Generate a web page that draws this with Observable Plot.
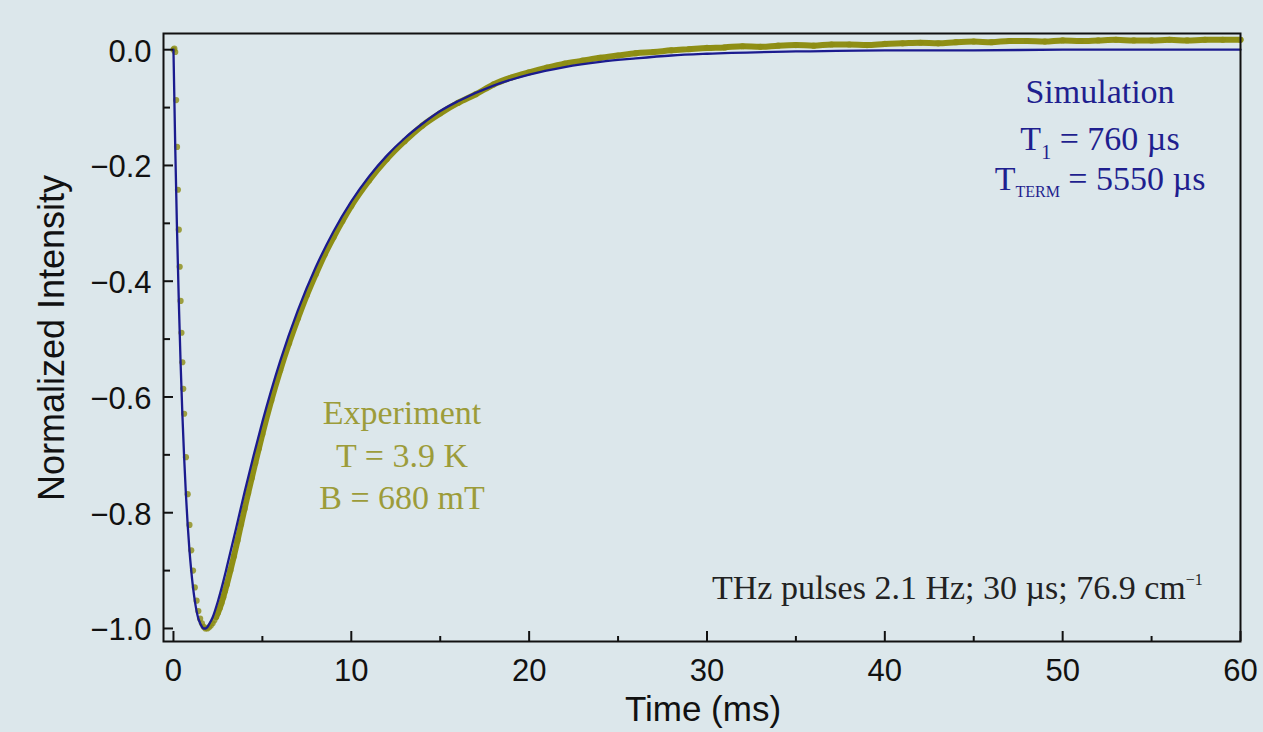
<!DOCTYPE html>
<html>
<head>
<meta charset="utf-8">
<script src="https://cdn.jsdelivr.net/npm/d3@7"></script>
<script src="https://cdn.jsdelivr.net/npm/@observablehq/plot@0.6"></script>
<style>
  html, body { margin: 0; padding: 0; background: #dce7eb; }
  #wrap { position: relative; width: 1263px; height: 732px; overflow: hidden; background: #dce7eb; }
  #wrap svg { position: absolute; left: 0; top: 0; }
  .ann { position: absolute; white-space: nowrap; font-family: "Liberation Serif", "Times New Roman", serif; font-size: 34px; line-height: 40.8px; }
  .ctr { transform: translateX(-50%); }
  .sans { font-family: "Liberation Sans", Arial, sans-serif; color: #111; }
</style>
</head>
<body>
<div id="wrap"></div>
<script>
// ---- data ----
const simTime  = [0, 0.1, 0.2, 0.3, 0.4, 0.5, 0.6, 0.7, 0.8, 0.9, 1.0, 1.1, 1.2, 1.3, 1.4, 1.5, 1.6, 1.7, 1.8, 1.9, 2.0, 2.2, 2.5, 2.8, 3.0, 3.5, 4, 4.5, 5, 6, 7, 8, 9, 10, 11, 12, 13, 14, 15, 16, 18, 20, 22, 24, 26, 28, 30, 35, 40, 45, 50, 55, 60];
const simValue = [0, -0.168, -0.311, -0.434, -0.540, -0.629, -0.704, -0.768, -0.821, -0.865, -0.900, -0.929, -0.952, -0.970, -0.983, -0.991, -0.997, -1.000, -1.000, -0.998, -0.993, -0.981, -0.953, -0.919, -0.894, -0.830, -0.764, -0.702, -0.643, -0.538, -0.450, -0.376, -0.314, -0.262, -0.219, -0.183, -0.153, -0.128, -0.106, -0.089, -0.062, -0.043, -0.030, -0.021, -0.015, -0.010, -0.007, -0.003, -0.001, -0.001, 0, 0, 0];

const expTime  = [0, 0.05, 0.1, 0.15, 0.2, 0.25, 0.3, 0.35, 0.4, 0.45, 0.5, 0.55, 0.6, 0.7, 0.8, 0.9, 1.0, 1.1, 1.2, 1.3, 1.4, 1.5, 1.6, 1.7, 1.8, 1.9, 2.0, 2.1, 2.2, 2.3, 2.4, 2.5, 2.6, 2.7, 2.8, 2.9, 3.0, 3.2, 3.4, 3.6, 3.8, 4.0, 4.2, 4.4, 4.6, 4.8, 5.0, 5.5, 6.0, 6.5, 7.0, 7.5, 8.0, 8.5, 9.0, 9.5, 10, 11, 12, 13, 14, 15, 16, 17, 18, 19, 20, 21, 22, 23, 24, 25, 26, 27, 28, 29, 30, 31, 32, 33, 34, 35, 36, 37, 38, 39, 40, 41, 42, 43, 44, 45, 46, 47, 48, 49, 50, 51, 52, 53, 54, 55, 56, 57, 58, 59, 60];
const expValue = [0, 0.002, -0.004, -0.087, -0.168, -0.242, -0.311, -0.375, -0.434, -0.489, -0.540, -0.586, -0.629, -0.704, -0.768, -0.821, -0.865, -0.900, -0.929, -0.952, -0.970, -0.983, -0.991, -0.997, -1.000, -1.000, -0.998, -0.995, -0.991, -0.986, -0.980, -0.973, -0.965, -0.956, -0.946, -0.935, -0.924, -0.900, -0.875, -0.848, -0.820, -0.793, -0.766, -0.740, -0.714, -0.689, -0.664, -0.606, -0.554, -0.507, -0.464, -0.424, -0.388, -0.354, -0.324, -0.296, -0.270, -0.226, -0.189, -0.158, -0.131, -0.110, -0.092, -0.077, -0.060, -0.048, -0.039, -0.031, -0.024, -0.019, -0.014, -0.010, -0.006, -0.004, -0.001, 0.001, 0.003, 0.004, 0.006, 0.005, 0.007, 0.008, 0.007, 0.009, 0.009, 0.008, 0.010, 0.011, 0.012, 0.011, 0.013, 0.014, 0.013, 0.015, 0.015, 0.014, 0.016, 0.015, 0.016, 0.017, 0.016, 0.016, 0.017, 0.016, 0.017, 0.017, 0.017];

const xTicks = [0, 10, 20, 30, 40, 50, 60];
const xMinorTicks = [5, 15, 25, 35, 45, 55];
const yTicks = [0, -0.2, -0.4, -0.6, -0.8, -1.0];
const yTickLabels = ["0.0", "\u22120.2", "\u22120.4", "\u22120.6", "\u22120.8", "\u22121.0"];
const yMinorTicks = [-0.1, -0.3, -0.5, -0.7, -0.9];

const xLabel = "Time (ms)";
const yLabel = "Normalized Intensity";

// ---- tables ----
const sim = simTime.map((t, i) => ({t, v: simValue[i]}));
const exp = expTime.map((t, i) => ({t, v: expValue[i]}));

const W = 1263, H = 732;
const mL = 163, mR = 23, mT = 33, mB = 91;
const innerW = W - mL - mR, innerH = H - mT - mB;

const ink = "#111";
const blue = "#1b1b8f";
const olive = "#8a8a0a";

const chart = Plot.plot({
  width: W, height: H,
  marginLeft: mL, marginRight: mR, marginTop: mT, marginBottom: mB,
  style: {background: "transparent", fontFamily: "'Liberation Sans', Arial, sans-serif", color: ink},
  x: {domain: [-0.56, 60]},
  y: {domain: [-1.0225, 0.028]},
  marks: [
    Plot.line(exp.filter(d => d.t >= 2.4), {x: "t", y: "v", stroke: olive, strokeWidth: 6, strokeOpacity: 0.95, curve: "monotone-x"}),
    Plot.dot(exp, {x: "t", y: "v", r: 3.1, fill: "#8c8c14", fillOpacity: 0.8, stroke: "none"}),
    Plot.line(sim, {x: "t", y: "v", stroke: blue, strokeWidth: 2.3, curve: "monotone-x"}),
    Plot.frame({stroke: ink, strokeWidth: 2}),
    Plot.tickX(xTicks, {x: d => d, stroke: ink, strokeWidth: 2, insetTop: innerH - 10}),
    Plot.tickX(xMinorTicks, {x: d => d, stroke: ink, strokeWidth: 2, insetTop: innerH - 5}),
    Plot.tickY(yTicks, {y: d => d, stroke: ink, strokeWidth: 2, insetRight: innerW - 10}),
    Plot.tickY(yMinorTicks, {y: d => d, stroke: ink, strokeWidth: 2, insetRight: innerW - 7}),
    Plot.axisX(xTicks, {tickSize: 0, tickPadding: 17, fontSize: 31, label: null, tickFormat: d => String(d), fill: ink}),
    Plot.axisY(yTicks, {tickSize: 0, tickPadding: 12, fontSize: 31, label: null, tickFormat: d => yTickLabels[yTicks.indexOf(d)], fill: ink, dy: 2})
  ]
});

const wrap = document.getElementById("wrap");
wrap.appendChild(chart);

function addText(html, cls, style) {
  const d = document.createElement("div");
  d.className = cls;
  d.innerHTML = html;
  Object.assign(d.style, style);
  wrap.appendChild(d);
  return d;
}

// axis titles
addText(xLabel, "ann sans ctr", {left: "703px", top: "689px", fontSize: "35px", lineHeight: "40px"});
addText(yLabel, "ann sans", {left: "52px", top: "338px", fontSize: "36px", lineHeight: "43.2px", transform: "translate(-50%,-50%) rotate(-90deg)"});

// annotations: simulation
const simC = "#1f1f8f";
addText("Simulation", "ann ctr", {left: "1100px", top: "72px", color: simC});
addText('T<span style="font-size:20px;position:relative;top:9px;line-height:0">1</span> = 760 \u00b5s', "ann ctr", {left: "1100px", top: "119px", color: simC});
addText('T<span style="font-size:16px;position:relative;top:7px;line-height:0">TERM</span> = 5550 \u00b5s', "ann ctr", {left: "1100px", top: "159px", color: simC});

// annotations: experiment
const expC = "#9c9c3a";
addText("Experiment", "ann ctr", {left: "402px", top: "393px", color: expC});
addText("T = 3.9 K", "ann ctr", {left: "402px", top: "436px", color: expC});
addText("B = 680 mT", "ann ctr", {left: "402px", top: "478px", color: expC});

// pulse info
addText('THz pulses 2.1 Hz; 30 \u00b5s; 76.9 cm<span style="font-size:16px;position:relative;top:-14px;line-height:0">\u22121</span>', "ann", {left: "712px", top: "568px", color: "#222"});
</script>
</body>
</html>
